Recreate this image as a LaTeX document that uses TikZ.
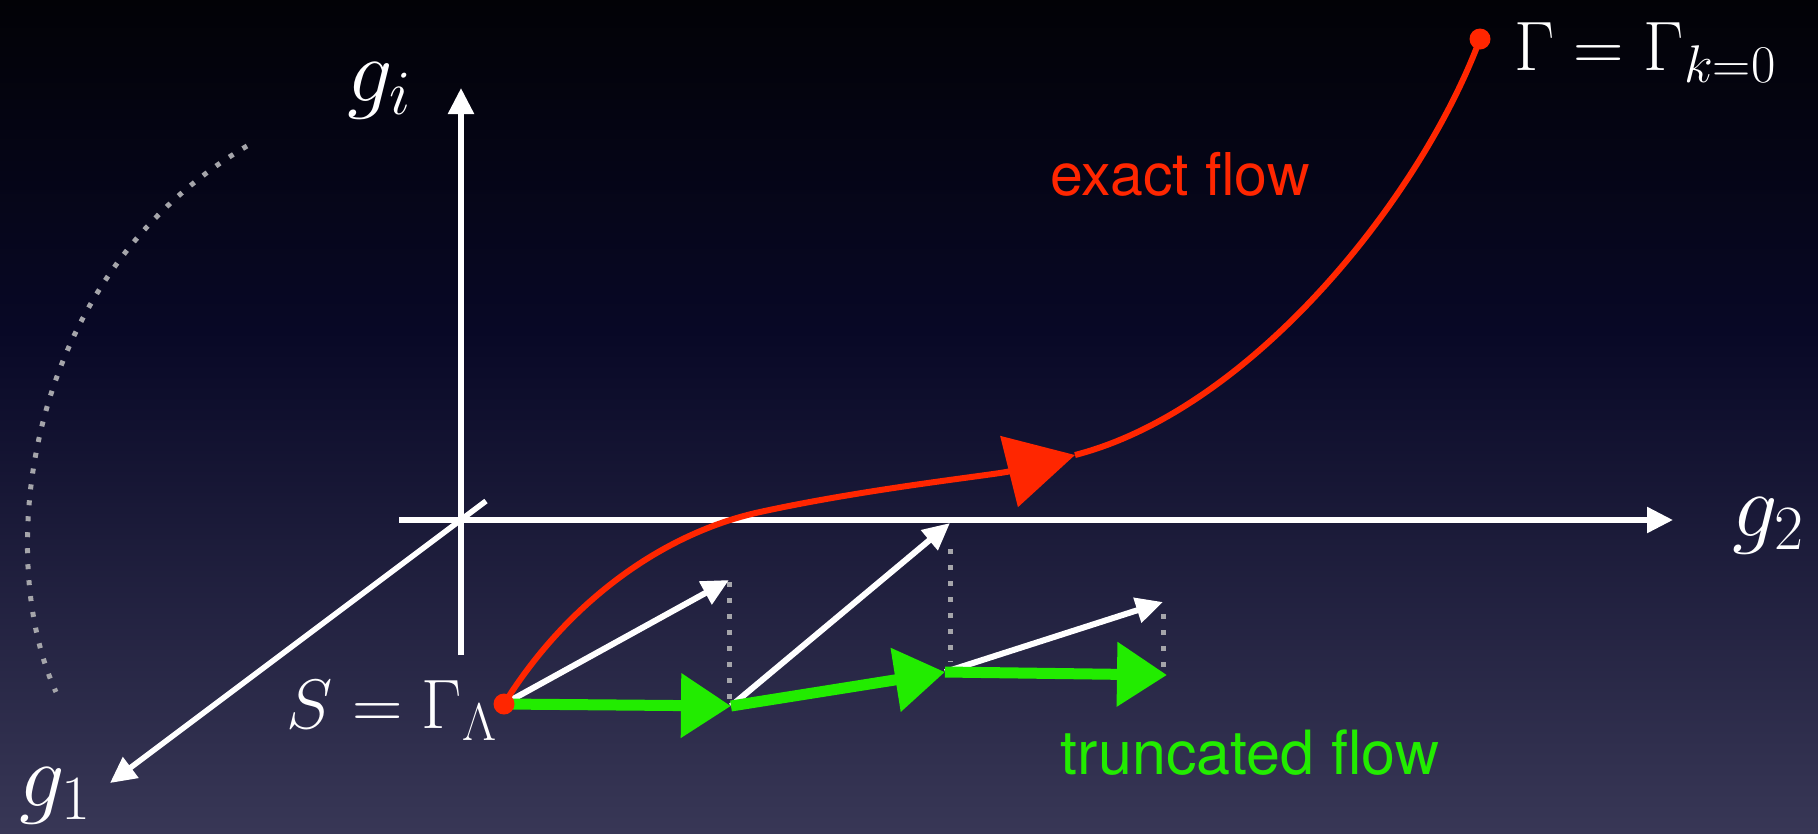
\documentclass[tikz,border=0pt]{standalone}
\usepackage{fix-cm}
\usepackage[no-math]{fontspec}
\newfontfamily\hv{TeX Gyre Heros}
\usetikzlibrary{arrows.meta}
\DeclareMathSizes{70}{70}{53}{40}
\DeclareMathSizes{90}{90}{63}{45}
\definecolor{bgtop}{RGB}{2,2,6}
\definecolor{bgnavy}{RGB}{8,8,38}
\definecolor{bgbot}{RGB}{56,55,86}
\definecolor{flowred}{RGB}{255,38,0}
\definecolor{flowgreen}{RGB}{34,236,0}
\definecolor{dotgray}{RGB}{165,165,170}
\tikzset{
  axisarrow/.style={white, line width=5.5pt, -{Triangle[length=26pt,width=25pt]}},
  vecarrow/.style={white, line width=6pt, -{Triangle[length=27pt,width=25pt]}},
  gstep/.style={flowgreen, line width=11pt, -{Triangle[length=50pt,width=62pt]}},
  exactline/.style={flowred, line width=6pt},
  dotline/.style={dotgray, line width=5pt, dash pattern=on 5pt off 11pt},
  reddot/.style={circle, fill=flowred, inner sep=0pt, minimum size=21pt},
  mlbl/.style={text=white, inner sep=0pt, font=\fontsize{70}{80}\selectfont},
  glbl/.style={text=white, inner sep=0pt, font=\fontsize{90}{100}\selectfont},
  txtlbl/.style={inner sep=0pt, font=\hv\fontsize{59}{66}\selectfont},
}
\begin{document}
\begin{tikzpicture}[x=1pt,y=-1pt]
% background
\useasboundingbox (0,0) rectangle (1818,833);
\fill[top color=bgtop, bottom color=bgnavy] (0,0) rectangle (1818,331);
\fill[top color=bgnavy, bottom color=bgbot] (0,330) rectangle (1818,833);

% coordinates
\coordinate (o) at (461,520);
\coordinate (vbot) at (461,655);
\coordinate (vtop) at (461,88);
\coordinate (hleft) at (399,520);
\coordinate (hright) at (1673,520);
\coordinate (dstart) at (486,501);
\coordinate (dend) at (110,783);
\coordinate (s) at (504,704);
\coordinate (p1) at (731,706);
\coordinate (p2) at (945,672);
\coordinate (p3) at (1167,675);
\coordinate (w1) at (729,580);
\coordinate (w2) at (950,523);
\coordinate (w3) at (1163,602);
\coordinate (j) at (760,512);
\coordinate (m) at (1075,455);
\coordinate (e) at (1480,39);
\coordinate (arcA) at (247,146);
\coordinate (arcB) at (56,692);

% dotted arc
\draw[dotline] (arcA) .. controls (20,280) and (-5,560) .. (arcB);

% axes
\draw[axisarrow] (vbot) -- (vtop);
\draw[axisarrow] (hleft) -- (hright);
\draw[axisarrow] (dstart) -- (dend);

% dotted projections
\draw[dotline, shorten <=2pt] (w1) -- (w1 |- p1);
\draw[dotline, shorten <=26pt, shorten >=10pt] (w2) -- (w2 |- p2);
\draw[dotline, shorten <=12pt, shorten >=8pt] (w3) -- (w3 |- p3);

% white vectors
\draw[vecarrow] (s) -- (w1);
\draw[vecarrow] (p1) -- (w2);
\draw[vecarrow] (p2) -- (w3);

% truncated flow (green)
\draw[gstep] (s) -- (p1);
\draw[gstep] (p1) -- (p2);
\draw[gstep] (p2) -- (p3);

% exact flow (red)
\draw[exactline, -{Triangle[length=68pt,width=72pt]}] (s) .. controls (562,610) and (655,535) .. (j) .. controls (870,488) and (995,475) .. (m);
\draw[exactline] (m) .. controls (1250,410) and (1420,200) .. (e);

\node[reddot] (sdot) at (s) {};
\node[reddot] (edot) at (e) {};

% labels
\node[glbl, anchor=base west] (gi) at (347,101) {$g_i$};
\node[glbl, anchor=base west] (g2) at (1732,536) {$g_2$};
\node[glbl, anchor=base west] (g1) at (19,806) {$g_1$};
\node[mlbl, anchor=base west] (Gam) at (1514,70) {$\Gamma=\Gamma_{k=0}$};
\node[mlbl, anchor=base east] (SG) at (497,728) {$S=\Gamma_\Lambda$};
\node[txtlbl, text=flowred, anchor=base] (ex) at (1180,195) {exact flow};
\node[txtlbl, text=flowgreen, anchor=base, font=\hv\fontsize{61}{68}\selectfont] (tr) at (1250,774) {truncated flow};
\end{tikzpicture}
\end{document}
